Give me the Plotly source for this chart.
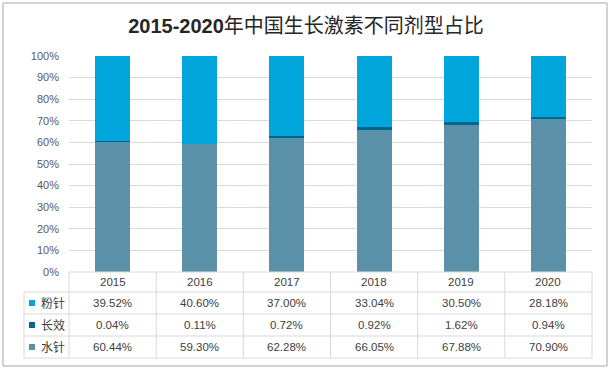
import plotly.graph_objects as go

years = ["2015", "2016", "2017", "2018", "2019", "2020"]
series_names = ["粉针", "长效", "水针"]
fenzhen = [39.52, 40.60, 37.00, 33.04, 30.50, 28.18]
changxiao = [0.04, 0.11, 0.72, 0.92, 1.62, 0.94]
shuizhen = [60.44, 59.30, 62.28, 66.05, 67.88, 70.90]
colors = {"粉针": "#00A5DC", "长效": "#00678F", "水针": "#5B91A8"}
values = {"粉针": fenzhen, "长效": changxiao, "水针": shuizhen}

W, H = 612, 370
L, R, T, B = 69, 20, 56, 98
PW, PH = W - L - R, H - T - B

def xp(px):
    return (px - L) / PW

def yp(py):
    return (H - B - py) / PH

fig = go.Figure()
for name in ["水针", "长效", "粉针"]:
    fig.add_trace(go.Bar(x=years, y=values[name], name=name,
                         marker=dict(color=colors[name], line=dict(width=0)),
                         width=0.4, showlegend=False))

FONT = "Liberation Sans, Noto Sans CJK SC, sans-serif"
grid = "#D9D9D9"
txt = "#404040"
shapes = []
annotations = []

row_edges = [272, 292, 314, 336, 358]
n = len(years)
shapes.append(dict(type="line", xref="paper", yref="paper", x0=xp(69), x1=xp(592),
                   y0=yp(272), y1=yp(272), line=dict(color=grid, width=1)))
for py in row_edges[1:]:
    shapes.append(dict(type="line", xref="paper", yref="paper", x0=xp(24), x1=xp(592),
                       y0=yp(py), y1=yp(py), line=dict(color=grid, width=1)))
shapes.append(dict(type="line", xref="paper", yref="paper", x0=xp(24), x1=xp(24),
                   y0=yp(292), y1=yp(358), line=dict(color=grid, width=1)))
for i in range(n + 1):
    shapes.append(dict(type="line", xref="paper", yref="paper", x0=i / n, x1=i / n,
                       y0=yp(272), y1=yp(358), line=dict(color=grid, width=1)))

for i, yr in enumerate(years):
    annotations.append(dict(x=i, xref="x", y=yp(282), yref="paper", text=yr,
                            showarrow=False, font=dict(family=FONT, size=11.5, color=txt),
                            xanchor="center", yanchor="middle"))
row_centers = [303, 325, 347]
for name, cy in zip(series_names, row_centers):
    shapes.append(dict(type="rect", xref="paper", yref="paper", x0=xp(29), x1=xp(35),
                       y0=yp(cy - 3), y1=yp(cy + 3), fillcolor=colors[name], line=dict(width=0)))
    annotations.append(dict(x=xp(39), xref="paper", y=yp(cy), yref="paper", text=name,
                            showarrow=False, font=dict(family=FONT, size=12, color=txt),
                            xanchor="left", yanchor="middle"))
    for i, v in enumerate(values[name]):
        annotations.append(dict(x=i, xref="x", y=yp(cy), yref="paper", text=f"{v:.2f}%",
                                showarrow=False, font=dict(family=FONT, size=11.5, color=txt),
                                xanchor="center", yanchor="middle"))

shapes.append(dict(type="rect", xref="paper", yref="paper", x0=xp(3), x1=xp(607),
                   y0=yp(366), y1=yp(3), line=dict(color="#A6A6A6", width=1), layer="below"))

fig.update_layout(
    width=W, height=H,
    margin=dict(l=L, r=R, t=T, b=B),
    paper_bgcolor="white", plot_bgcolor="white",
    barmode="stack", bargap=0.6,
    title=dict(text="<b>2015-2020</b>年中国生长激素不同剂型占比",
               x=0.5, xref="container", xanchor="center", y=1 - 26 / H, yanchor="middle",
               font=dict(family=FONT, size=20, color="#262626")),
    xaxis=dict(showticklabels=False, showgrid=False, zeroline=False, showline=False,
               ticks="", range=[-0.5, 5.5], type="category"),
    yaxis=dict(range=[0, 100], dtick=10, ticksuffix="%", showgrid=True, gridcolor=grid,
               gridwidth=1, zeroline=False, showline=False, ticks="",
               tickfont=dict(family=FONT, size=11, color="#595959"),
               ticklabelstandoff=9),
    shapes=shapes, annotations=annotations,
)

fig.write_html("out.html", config={"displayModeBar": False},
               post_script="document.body.style.margin='0';document.body.style.overflow='hidden';")
